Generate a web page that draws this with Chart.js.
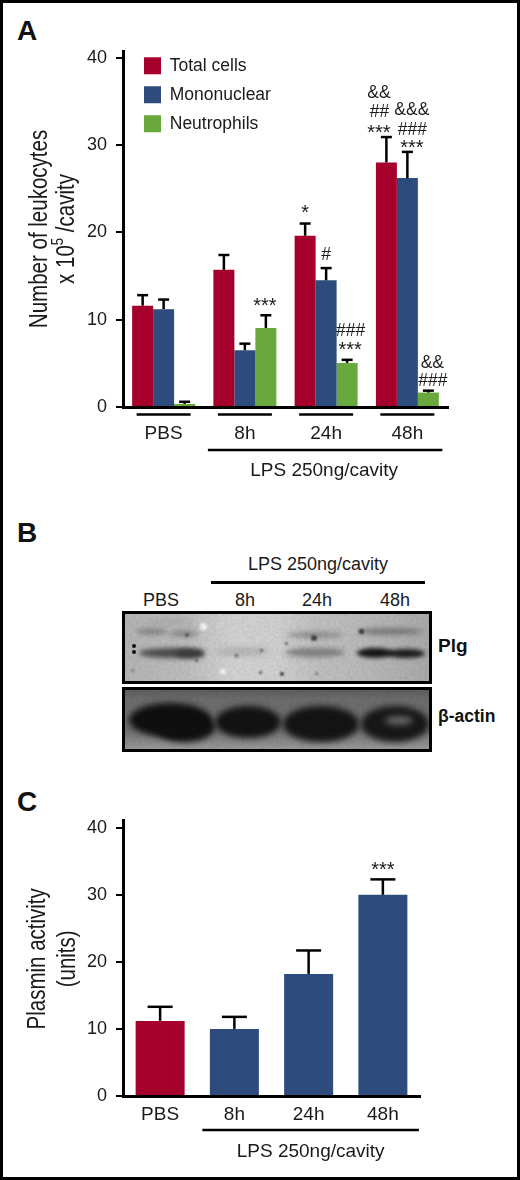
<!DOCTYPE html>
<html><head><meta charset="utf-8">
<script src="https://cdn.jsdelivr.net/npm/chart.js@4/dist/chart.umd.min.js"></script>
<style>
html,body{margin:0;padding:0;background:#fff;}
#page{position:relative;width:520px;height:1180px;overflow:hidden;background:#fff;font-family:"Liberation Sans",Arial,sans-serif;color:#1a1a1a;}
#frame{position:absolute;inset:0;border:3px solid #000;box-sizing:border-box;pointer-events:none;z-index:9;}
canvas{position:absolute;left:0;}
.letter{position:absolute;font-weight:bold;font-size:28px;line-height:28px;color:#111;}
.t{position:absolute;font-size:18px;line-height:20px;transform:translateX(-50%);white-space:nowrap;}
.side{position:absolute;font-weight:bold;font-size:17.5px;line-height:20px;color:#111;white-space:nowrap;}
.rule{position:absolute;background:#000;height:2.5px;}
.blot{position:absolute;border:3px solid #000;box-sizing:border-box;overflow:hidden;}
.blot i{position:absolute;display:block;border-radius:50%;}
.blot b{position:absolute;inset:0;mix-blend-mode:multiply;opacity:.5;background-image:url("data:image/svg+xml,%3Csvg xmlns='http://www.w3.org/2000/svg' width='310' height='80'%3E%3Cfilter id='n'%3E%3CfeTurbulence type='fractalNoise' baseFrequency='0.35' numOctaves='3' seed='4'/%3E%3CfeColorMatrix values='0 0 0 0 0.5 0 0 0 0 0.5 0 0 0 0 0.5 0.9 0 0 0 -0.15'/%3E%3C/filter%3E%3Crect width='310' height='80' filter='url(%23n)'/%3E%3C/svg%3E");}
</style></head>
<body><div id="page">
<div id="frame"></div>
<div class="letter" style="left:17px;top:17px">A</div>
<div class="letter" style="left:17px;top:519px">B</div>
<div class="letter" style="left:17px;top:788px">C</div>
<canvas id="chartA" width="520" height="490" style="top:0"></canvas>
<canvas id="chartC" width="520" height="385" style="top:790px"></canvas>

<div class="t" style="left:318px;top:554px">LPS 250ng/cavity</div>
<div class="rule" style="left:211px;top:581px;width:214px"></div>
<div class="t" style="left:161px;top:590px">PBS</div>
<div class="t" style="left:245px;top:590px">8h</div>
<div class="t" style="left:317px;top:590px">24h</div>
<div class="t" style="left:395px;top:590px">48h</div>
<div class="blot" id="blotTop" style="left:122px;top:611px;width:310px;height:73px;background:linear-gradient(90deg,#b8b8b8 0%,#c0c0c0 20%,#d6d6d6 35%,#d4d4d4 50%,#c4c4c4 62%,#bcbcbc 80%,#acacac 100%)"></div>
<div class="blot" id="blotBot" style="left:122px;top:687px;width:310px;height:65px;background:linear-gradient(180deg,#5e5e5e 0%,#6e6e6e 15%,#747474 70%,#9c9c9c 100%)"></div>
<div class="side" style="left:438px;top:636px;font-size:19px">Plg</div>
<div class="side" style="left:438px;top:706px">β-actin</div>
</div>
<script>
// Panel A data
const groups = ['PBS', '8h', '24h', '48h'];
const seriesNames = ['Total cells', 'Mononuclear', 'Neutrophils'];
const totalCells = [11.6, 15.7, 19.6, 28.0];
const mononuclear = [11.2, 6.5, 14.5, 26.2];
const neutrophils = [0.35, 9.05, 5.05, 1.65];
const totalErr = [1.2, 1.7, 1.4, 2.9];
const monoErr = [1.1, 0.75, 1.4, 3.0];
const neutErr = [0.25, 1.45, 0.35, 0.22];
const yTicks = [0, 10, 20, 30, 40];
const sigTexts = ['&&', '##', '***', '&&&', '###', '***', '*', '#', '***', '###', '***', '&&', '###'];
const sigGroup = [3, 3, 3, 3, 3, 3, 2, 2, 1, 2, 2, 3, 3];
const sigSeries = [0, 0, 0, 1, 1, 1, 0, 1, 2, 2, 2, 2, 2];
const sigLevel = [35.9, 33.8, 31.7, 34.0, 31.7, 29.9, 22.5, 17.4, 11.9, 8.7, 6.8, 5.05, 2.9];
const groupNote = 'LPS 250ng/cavity';
// Panel C data
const plasmin = [11.2, 10.0, 18.2, 30.0];
const plasminErr = [2.1, 1.8, 3.5, 2.3];
const plasminSig = ['', '', '', '***'];

const RED = '#A5002B', BLUE = '#2D4B7C', GREEN = '#69A83C', INK = '#1a1a1a';
const FONT = '"Liberation Sans", Arial, sans-serif';
const sigDx = [-7.5, -7, -7.5, 4.5, 5, 4.5, 0, 0, -1, 3.5, 3, 4, 4.5];

function text(ctx, s, x, y, size) {
  ctx.save();
  ctx.fillStyle = INK; ctx.font = size + 'px ' + FONT;
  ctx.textAlign = 'center'; ctx.textBaseline = 'middle';
  ctx.fillText(s, x, y);
  ctx.restore();
}
function line(ctx, x1, y1, x2, y2, w) {
  ctx.save(); ctx.strokeStyle = '#000'; ctx.lineWidth = w;
  ctx.beginPath(); ctx.moveTo(x1, y1); ctx.lineTo(x2, y2); ctx.stroke(); ctx.restore();
}
function errorBars(chart, errs, cap) {
  const { ctx, scales: { y } } = chart;
  errs.forEach((arr, s) => {
    const meta = chart.getDatasetMeta(s);
    arr.forEach((e, i) => {
      const v = chart.data.datasets[s].data[i];
      const x = meta.data[i].x, y0 = y.getPixelForValue(v), y1 = y.getPixelForValue(v + e);
      line(ctx, x, y0, x, y1, 2.5);
      line(ctx, x - cap / 2, y1, x + cap / 2, y1, 2.5);
    });
  });
}
// Condensed rotated axis title: the installed fonts have no narrow cut, so squeeze horizontally.
function condensedTitle(chart, xs) {
  const { ctx, scales: { y } } = chart;
  const lines = y.options.title.text, cy = (y.top + y.bottom) / 2 - (chart.canvas.id === 'chartA' ? 0 : -0.5);
  lines.forEach((s, i) => {
    ctx.save();
    ctx.translate(xs[i], cy); ctx.rotate(-Math.PI / 2); ctx.scale(0.82, 1);
    ctx.fillStyle = INK; ctx.textBaseline = 'middle';
    const big = '25px ' + FONT, small = '16px ' + FONT;
    const parts = s.split('⁵');
    ctx.font = big;
    const w0 = ctx.measureText(parts[0]).width;
    const w2 = parts[1] ? ctx.measureText(parts[1]).width : 0;
    ctx.font = small;
    const w1 = parts.length > 1 ? ctx.measureText('5').width : 0;
    let pos = -(w0 + w1 + w2) / 2;
    ctx.textAlign = 'left';
    ctx.font = big; ctx.fillText(parts[0], pos, 0); pos += w0;
    if (parts.length > 1) {
      ctx.font = small; ctx.fillText('5', pos, -8); pos += w1;
      ctx.font = big; ctx.fillText(parts[1], pos, 0);
    }
    ctx.restore();
  });
}
function yScale(max, width, titleText) {
  return {
    min: 0, max,
    afterBuildTicks: s => { s.ticks = yTicks.map(value => ({ value })); },
    afterFit: s => { s.width = width; },
    border: { color: '#000', width: 3 },
    grid: { drawOnChartArea: false, drawTicks: true, color: '#000', lineWidth: 2, tickLength: 7 },
    ticks: { color: INK, font: { family: FONT, size: 18 }, padding: 9 },
    title: { display: false, text: titleText }
  };
}
function xScale(height, pad) {
  return {
    afterFit: s => { s.height = height; },
    border: { color: '#000', width: 3 },
    grid: { display: false, drawTicks: false },
    ticks: { color: INK, font: { family: FONT, size: 19 }, padding: pad, maxRotation: 0 }
  };
}

new Chart(document.getElementById('chartA'), {
  type: 'bar',
  data: {
    labels: groups,
    datasets: [
      { label: seriesNames[0], data: totalCells, backgroundColor: RED },
      { label: seriesNames[1], data: mononuclear, backgroundColor: BLUE },
      { label: seriesNames[2], data: neutrophils, backgroundColor: GREEN }
    ]
  },
  options: {
    responsive: false, animation: false, devicePixelRatio: 1,
    layout: { padding: { top: 51, right: 72, left: 0, bottom: 0 } },
    datasets: { bar: { barPercentage: 1, categoryPercentage: 0.775 } },
    scales: {
      x: xScale(83, 15),
      y: yScale(40.75, 123, ['Number of leukocytes', 'x 10⁵ /cavity'])
    },
    plugins: {
      tooltip: { enabled: false },
      legend: { position: 'chartArea', align: 'start',
        labels: { boxWidth: 17, boxHeight: 17, padding: 11.5, color: INK, font: { family: FONT, size: 17.5 } } }
    }
  },
  plugins: [{
    id: 'panelA',
    afterLayout(chart) { chart.legend.left = 132.5; chart.legend.top = 45.5; },
    afterDatasetsDraw(chart) {
      const { ctx, scales: { x, y } } = chart;
      errorBars(chart, [totalErr, monoErr, neutErr], 11);
      condensedTitle(chart, [40, 67]);
      sigTexts.forEach((s, i) => {
        const bx = chart.getDatasetMeta(sigSeries[i]).data[sigGroup[i]].x;
        const star = s[0] === '*';
        text(ctx, s, bx + sigDx[i], y.getPixelForValue(sigLevel[i]) + (star ? 3 : 0), star ? 20 : 17.5);
      });
      const base = y.getPixelForValue(0);
      groups.forEach((g, i) => {
        const c = x.getPixelForTick(i);
        line(ctx, c - 27, base + 7.5, c + 27, base + 7.5, 2.5);
      });
      line(ctx, x.getPixelForTick(1) - 37, base + 43, x.getPixelForTick(3) + 35, base + 43, 2.5);
      text(ctx, groupNote, x.getPixelForTick(2) - 2, base + 64, 19);
    }
  }]
});

new Chart(document.getElementById('chartC'), {
  type: 'bar',
  data: {
    labels: groups,
    datasets: [{ label: 'Plasmin activity', data: plasmin, backgroundColor: [RED, BLUE, BLUE, BLUE] }]
  },
  options: {
    responsive: false, animation: false, devicePixelRatio: 1,
    layout: { padding: { top: 30.7, right: 100, left: 0, bottom: 0 } },
    datasets: { bar: { barPercentage: 1, categoryPercentage: 0.66 } },
    scales: {
      x: xScale(79, 7),
      y: yScale(41.05, 123, ['Plasmin activity', '(units)'])
    },
    plugins: { tooltip: { enabled: false }, legend: { display: false } }
  },
  plugins: [{
    id: 'panelC',
    afterDatasetsDraw(chart) {
      const { ctx, scales: { x, y } } = chart;
      errorBars(chart, [plasminErr], 25);
      condensedTitle(chart, [38, 68]);
      plasminSig.forEach((s, i) => {
        if (s) text(ctx, s, x.getPixelForTick(i), y.getPixelForValue(plasmin[i] + plasminErr[i]) - 9, 20);
      });
      const base = y.getPixelForValue(0);
      line(ctx, x.getPixelForTick(1) - 32, base + 34, x.getPixelForTick(3) + 36, base + 34, 2.5);
      text(ctx, groupNote, x.getPixelForTick(2) + 2, base + 56, 19);
    }
  }]
});

// Panel B is a photographed western blot, not data: painted as soft blurred shapes.
function smear(host, left, top, w, h, color, blur) {
  const el = document.createElement('i');
  el.style.cssText = `left:${left}px;top:${top}px;width:${w}px;height:${h}px;background:${color};filter:blur(${blur}px)`;
  host.appendChild(el);
}
const top_ = document.getElementById('blotTop');
[[14,34,64,10,'#4c4c4c',2.5],[50,35,30,9,'#3c3c3c',2.5],[11,14,32,7,'#8c8c8c',2.5],[44,16,30,7,'#8f8f8f',2.5],
 [90,34,55,7,'#b0b0b0',3],[160,34,60,9,'#828282',2.5],[162,18,56,6,'#8e8e8e',2.5],[232,34,36,10,'#151515',2],
 [262,35,38,9,'#1c1c1c',2],[232,14,66,7,'#7c7c7c',2.5],[20,5,50,5,'#a8a8a8',3]].forEach(a => smear(top_, ...a));
[[7,30,4,4,'#111',.6],[7,36,4,4,'#111',.6],[60,19,4,4,'#555',.8],[186,21,6,6,'#444',1],[234,15,5,5,'#333',1],
 [155,58,4,4,'#333',.8],[110,40,3,3,'#444',.8],[134,57,3,3,'#555',.8],[70,45,3,3,'#444',.8],[135,35,3,3,'#555',.8],
 [160,28,3,3,'#555',.8],[6,55,3,3,'#777',.8],[190,58,3,3,'#777',.8],[75,9,7,7,'#fff',1.5],[95,55,6,5,'#fff',1.5]].forEach(a => smear(top_, ...a));
const bot_ = document.getElementById('blotBot');
[[4,13,82,34,'#0f0f0f',3],[30,22,60,30,'#0f0f0f',3],[90,16,66,32,'#121212',3],[158,16,76,36,'#141414',3],
 [236,16,68,36,'#171717',3],[260,26,28,9,'#6a6a6a',3]].forEach(a => smear(bot_, ...a));
[top_, bot_].forEach(h => h.appendChild(document.createElement('b')));
</script>
</body></html>
